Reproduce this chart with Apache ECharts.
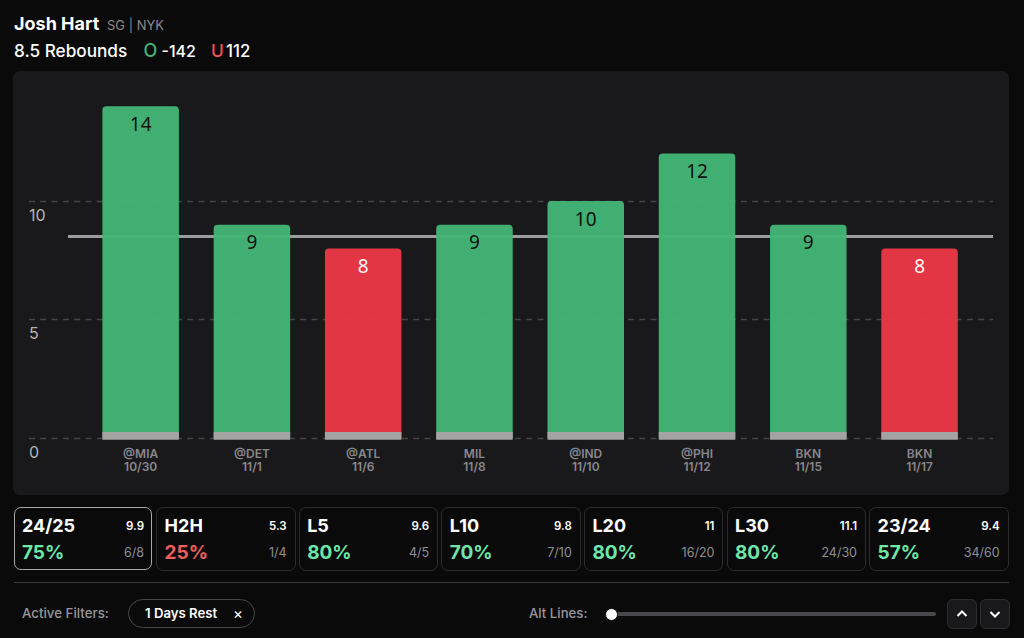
<!DOCTYPE html>
<html><head><meta charset="utf-8">
<script src="https://cdn.jsdelivr.net/npm/echarts@6/dist/echarts.min.js"></script>
<style>
html,body{margin:0;padding:0;width:1024px;height:638px;overflow:hidden;background:#0a0a0b;font-family:Inter,"Noto Sans",sans-serif;color:#fff}
.a{position:absolute;white-space:nowrap;line-height:1}
#panel{position:absolute;left:13px;top:71px;width:996px;height:424px;background:#19191b;border-radius:7px}
#chart{position:absolute;left:0;top:0;width:1024px;height:638px}
.card{position:absolute;top:507px;height:62px;width:137.5px;border:1px solid #2c2c30;border-radius:7px;box-sizing:content-box}
.card.sel{border:1.5px solid #a8a8a8;height:61px;width:136.5px}
.btn{position:absolute;top:599px;width:28px;height:28px;background:#19191b;border:1px solid #2e2e32;border-radius:6px}
</style></head><body>
<div id="panel"></div>
<div id="chart"></div>
<div id="ui"></div>
<script>
const opponents = ['@MIA','@DET','@ATL','MIL','@IND','@PHI','BKN','BKN'];
const dates = ['10/30','11/1','11/6','11/8','11/10','11/12','11/15','11/17'];
const rebounds = [14,9,8,9,10,12,9,8];
const propLine = 8.5;
const baseBand = [0.25,0.25,0.25,0.25,0.25,0.25,0.25,0.25];
const baseBandBelow = [-0.07,-0.07,-0.07,-0.07,-0.07,-0.07,-0.07,-0.07];
const cardNames = ['24/25','H2H','L5','L10','L20','L30','23/24'];
const cardAvgs = ['9.9','5.3','9.6','9.8','11','11.1','9.4'];
const cardPcts = ['75%','25%','80%','70%','80%','80%','57%'];
const cardCounts = ['6/8','1/4','4/5','7/10','16/20','24/30','34/60'];

const GREEN='#43b576', RED='#e93847', GREY='#a3a3a3';
const chart = echarts.init(document.getElementById('chart'), null, {renderer:'svg'});
const cats = opponents.map((o,i)=>o+'\n'+dates[i]);
const gTop=82.5, gBottom=200;
chart.setOption({
  animation:false,
  backgroundColor:'transparent',
  grid:[
    {left:85,right:48.8,top:gTop,bottom:gBottom},
    {left:29,right:31,top:gTop,bottom:gBottom},
    {left:68,right:31,top:gTop,bottom:gBottom}
  ],
  xAxis:[
    {type:'category',gridIndex:0,data:cats,axisLine:{show:false},axisTick:{show:false},
      axisLabel:{color:'#88888c',fontSize:12,fontWeight:600,lineHeight:13,margin:9,fontFamily:'Inter',interval:0}},
    {type:'category',gridIndex:1,data:cats,show:false},
    {type:'category',gridIndex:2,data:['start','end'],boundaryGap:false,show:false}
  ],
  yAxis:[
    {type:'value',gridIndex:0,min:0,max:15,interval:5,show:false},
    {type:'value',gridIndex:1,min:0,max:15,interval:5,
      axisLine:{show:false},axisTick:{show:false},
      splitLine:{show:true,showMaxLine:false,lineStyle:{color:'#45454a',width:1.4,type:[6,5.3]}},
      axisLabel:{inside:true,showMaxLabel:false,margin:0,color:'#b4b4b8',fontSize:16,fontFamily:'Inter',verticalAlign:'top',padding:[5.5,0,0,0]}},
    {type:'value',gridIndex:2,min:0,max:15,show:false}
  ],
  series:[
    {type:'line',xAxisIndex:2,yAxisIndex:2,data:[propLine,propLine],symbol:'none',silent:true,z:1,
      lineStyle:{color:'#9c9c9c',width:3}},
    {type:'bar',xAxisIndex:0,yAxisIndex:0,barWidth:76.5,barGap:'-100%',z:3,
      data:rebounds.map(v=>({value:v,itemStyle:{color:v>propLine?GREEN:RED,opacity:0.97,borderRadius:[4,4,0,0]},
        label:{color:v>propLine?'#0b0b0b':'#ffffff'}})),
      label:{show:true,position:'insideTop',distance:8,fontSize:19,fontFamily:'Noto Sans'}},
    {type:'bar',xAxisIndex:0,yAxisIndex:0,barWidth:76.5,barGap:'-100%',z:4,stack:'base',clip:false,
      data:baseBand,itemStyle:{color:GREY},silent:true},
    {type:'bar',xAxisIndex:0,yAxisIndex:0,barWidth:76.5,barGap:'-100%',z:4,stack:'base',clip:false,
      data:baseBandBelow,itemStyle:{color:GREY},silent:true}
  ]
});

const ui=document.getElementById('ui');
function t(txt,x,y,size,color,weight,anchor){
  const d=document.createElement('div');d.className='a';d.textContent=txt;
  d.style.cssText+=`top:${y-size/2}px;font-size:${size}px;color:${color};font-weight:${weight||400};`+
    (anchor==='r'?`right:${1024-x}px;`:`left:${x}px;`);
  ui.appendChild(d);return d;
}
t('Josh Hart',14,24,18,'#fff',700);
t('SG | NYK',107,25,13,'#8a8a8e',400);
t('8.5 Rebounds',14,51,17.2,'#fff',500);
t('O',143.5,51,18,'#43b576',500);
t('-142',161.5,51,16,'#fff',500);
t('U',211,51,17.2,'#ef5350',500);
t('112',226,51,16.8,'#fff',500);

const step=142.6;
cardNames.forEach((n,i)=>{
  const x=13.5+i*step;
  const c=document.createElement('div');c.className='card'+(i===0?' sel':'');
  c.style.left=x+'px';ui.appendChild(c);
  t(n,x+8.5,526,18,'#fff',700);
  t(cardAvgs[i],x+130.5,526.5,11.5,'#fff',600,'r');
  const pct=parseInt(cardPcts[i]);
  t(cardPcts[i],x+8.5,552,19,pct<50?'#f05d5e':'#6ee7a8',700);
  t(cardCounts[i],x+130.5,553,12.5,'#8f8f93',400,'r');
});
const hr=document.createElement('div');
hr.style.cssText='position:absolute;left:14px;top:582px;width:995px;height:1px;background:#3c3c40';ui.appendChild(hr);
t('Active Filters:',22,614,13.3,'#96969a',500);
const pill=document.createElement('div');
pill.style.cssText='position:absolute;left:128px;top:599px;width:125px;height:27px;border:1.5px solid #47474c;border-radius:16px';ui.appendChild(pill);
t('1 Days Rest',145,614,13.2,'#fff',600);
t('\u00d7',233,613,15,'#fff',400);
t('Alt Lines:',529,614,13.2,'#96969a',500);
const track=document.createElement('div');
track.style.cssText='position:absolute;left:611px;top:612px;width:325px;height:3.5px;background:#47474c;border-radius:2px';ui.appendChild(track);
const thumb=document.createElement('div');
thumb.style.cssText='position:absolute;left:604.5px;top:607.5px;width:11px;height:11px;background:#fff;border-radius:50%;border:1px solid #0a0a0b';ui.appendChild(thumb);
[[947,'M-4.5 2 L0 -2.5 L4.5 2'],[980,'M-4.5 -2 L0 2.5 L4.5 -2']].forEach(([x,p])=>{
  const b=document.createElement('div');b.className='btn';b.style.left=x+'px';
  b.innerHTML=`<svg width="28" height="28" style="display:block"><path transform="translate(14,14)" d="${p}" fill="none" stroke="#fff" stroke-width="2"/></svg>`;
  ui.appendChild(b);
});
</script>
</body></html>
